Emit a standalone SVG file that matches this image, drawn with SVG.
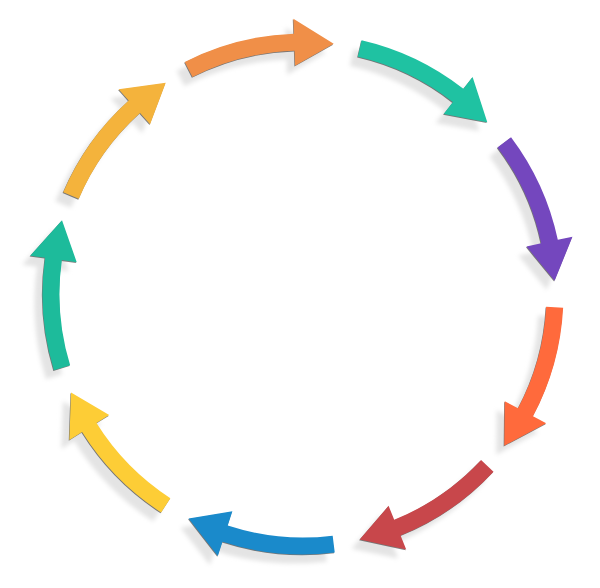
<svg xmlns="http://www.w3.org/2000/svg" xmlns:xlink="http://www.w3.org/1999/xlink" width="600" height="588" viewBox="0 0 600 588">
  <defs>
    <path id="arrow" d="M 260.5 0 A 260.5 260.5 0 0 1 236.09 110.09 L 249.68 116.43 L 208.92 140.92 L 207.09 96.57 L 220.69 102.91 A 243.5 243.5 0 0 0 243.5 0 Z"/>
    <filter id="blur" x="-20%" y="-20%" width="140%" height="140%">
      <feGaussianBlur stdDeviation="2.2"/>
    </filter>
  </defs>
  <style>
    .shadow { fill: #e4e4e4; filter: url(#blur); }
    .edge { fill: #2b2b2b; opacity: 0.6; }
    .c1 { fill: #7447be; }
    .c2 { fill: #ff6a3c; }
    .c3 { fill: #c8474b; }
    .c4 { fill: #1a8acb; }
    .c5 { fill: #fdcd36; }
    .c6 { fill: #1dbb9b; }
    .c7 { fill: #f4b33c; }
    .c8 { fill: #f08f48; }
    .c9 { fill: #1fc2a2; }
  </style>
  <rect width="600" height="588" fill="#ffffff"/>
  <g id="shadows">
    <use xlink:href="#arrow" class="shadow" transform="translate(295,303) rotate(-37)"/>
    <use xlink:href="#arrow" class="shadow" transform="translate(295,303) rotate(3)"/>
    <use xlink:href="#arrow" class="shadow" transform="translate(295,303) rotate(43)"/>
    <use xlink:href="#arrow" class="shadow" transform="translate(295,303) rotate(83)"/>
    <use xlink:href="#arrow" class="shadow" transform="translate(295,303) rotate(123)"/>
    <use xlink:href="#arrow" class="shadow" transform="translate(295,303) rotate(163)"/>
    <use xlink:href="#arrow" class="shadow" transform="translate(295,303) rotate(203)"/>
    <use xlink:href="#arrow" class="shadow" transform="translate(295,303) rotate(243)"/>
    <use xlink:href="#arrow" class="shadow" transform="translate(295,303) rotate(283)"/>
  </g>
  <g id="cycle">
    <g id="arrow-purple">
      <use xlink:href="#arrow" class="edge" transform="translate(302.4,294.8) rotate(-37)"/>
      <use xlink:href="#arrow" class="c1" transform="translate(303,294) rotate(-37)"/>
    </g>
    <g id="arrow-orange-red">
      <use xlink:href="#arrow" class="edge" transform="translate(302.4,294.8) rotate(3)"/>
      <use xlink:href="#arrow" class="c2" transform="translate(303,294) rotate(3)"/>
    </g>
    <g id="arrow-red">
      <use xlink:href="#arrow" class="edge" transform="translate(302.4,294.8) rotate(43)"/>
      <use xlink:href="#arrow" class="c3" transform="translate(303,294) rotate(43)"/>
    </g>
    <g id="arrow-blue">
      <use xlink:href="#arrow" class="edge" transform="translate(302.4,294.8) rotate(83)"/>
      <use xlink:href="#arrow" class="c4" transform="translate(303,294) rotate(83)"/>
    </g>
    <g id="arrow-yellow">
      <use xlink:href="#arrow" class="edge" transform="translate(302.4,294.8) rotate(123)"/>
      <use xlink:href="#arrow" class="c5" transform="translate(303,294) rotate(123)"/>
    </g>
    <g id="arrow-teal-left">
      <use xlink:href="#arrow" class="edge" transform="translate(302.4,294.8) rotate(163)"/>
      <use xlink:href="#arrow" class="c6" transform="translate(303,294) rotate(163)"/>
    </g>
    <g id="arrow-amber">
      <use xlink:href="#arrow" class="edge" transform="translate(302.4,294.8) rotate(203)"/>
      <use xlink:href="#arrow" class="c7" transform="translate(303,294) rotate(203)"/>
    </g>
    <g id="arrow-orange">
      <use xlink:href="#arrow" class="edge" transform="translate(302.4,294.8) rotate(243)"/>
      <use xlink:href="#arrow" class="c8" transform="translate(303,294) rotate(243)"/>
    </g>
    <g id="arrow-teal">
      <use xlink:href="#arrow" class="edge" transform="translate(302.4,294.8) rotate(283)"/>
      <use xlink:href="#arrow" class="c9" transform="translate(303,294) rotate(283)"/>
    </g>
  </g>
</svg>
